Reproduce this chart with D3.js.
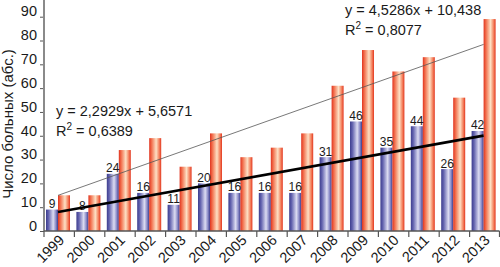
<!DOCTYPE html>
<html>
<head>
<meta charset="utf-8">
<script src="https://cdn.jsdelivr.net/npm/d3@7"></script>
<style>
  html, body { margin: 0; padding: 0; background: #fff; }
  svg { display: block; }
  text { font-family: "Liberation Sans", Arial, sans-serif; fill: #1a1a1a; }
</style>
</head>
<body>
<div id="chart"></div>
<script>
const W = 500, H = 267;
const X0 = 44, X1 = 500, Y0 = 231, Y90 = 16.7;

const years = ["1999", "2000", "2001", "2002", "2003", "2004", "2005", "2006", "2007", "2008", "2009", "2010", "2011", "2012", "2013"];
const blueCases = [9, 8, 24, 16, 11, 20, 16, 16, 16, 31, 46, 35, 44, 26, 42];
const redCases = [15, 15, 34, 39, 27, 41, 31, 35, 41, 61, 76, 67, 73, 56, 89];
const yTicks = [0, 10, 20, 30, 40, 50, 60, 70, 80, 90];
// linear trend coefficients, as printed on the chart
const blueTrend = [2.2929, 5.6571];
const redTrend = [4.5286, 10.438];
const blueEq = ["y = 2,2929x + 5,6571", "0,6389"];
const redEq = ["y = 4,5286x + 10,438", "0,8077"];

const svg = d3.select("#chart").append("svg")
  .attr("width", W)
  .attr("height", H);

const defs = svg.append("defs");
function gradient(id, stops) {
  const g = defs.append("linearGradient").attr("id", id)
    .attr("x1", "0%").attr("x2", "100%").attr("y1", "0%").attr("y2", "0%");
  stops.forEach(([o, c]) => g.append("stop").attr("offset", o).attr("stop-color", c));
}
gradient("gBlue", [[0, "#3d3d8e"], [0.2, "#6262ae"], [0.6, "#dcdcf2"], [0.82, "#8c8cc8"], [1, "#3b3b8c"]]);
gradient("gRed", [[0, "#e0341f"], [0.2, "#f2704e"], [0.58, "#fde0c4"], [0.85, "#f37a57"], [1, "#e2361f"]]);

const x = d3.scaleBand().domain(years).range([X0, X1]);
const y = d3.scaleLinear().domain([0, 90]).range([Y0, Y90]);
const bw = x.bandwidth();
const barW = 12, barOff = 2;

// bars
const bars = svg.append("g");
bars.selectAll(".blue").data(years).join("rect")
  .attr("x", d => x(d) + barOff)
  .attr("y", (d, i) => y(blueCases[i]))
  .attr("width", barW)
  .attr("height", (d, i) => Y0 - y(blueCases[i]))
  .attr("fill", "url(#gBlue)");
bars.selectAll(".red").data(years).join("rect")
  .attr("x", d => x(d) + barOff + barW)
  .attr("y", (d, i) => y(redCases[i]))
  .attr("width", barW)
  .attr("height", (d, i) => Y0 - y(redCases[i]))
  .attr("fill", "url(#gRed)");

// value labels over blue bars
svg.append("g").selectAll("text").data(years).join("text")
  .attr("x", d => x(d) + barOff + barW / 2)
  .attr("y", (d, i) => y(blueCases[i]) - 1.5)
  .attr("text-anchor", "middle")
  .attr("font-size", "12px")
  .text((d, i) => blueCases[i]);

// trend lines (x = 1..15 at the centre of each category)
const cx = i => x(years[i]) + barOff + barW;
function trendLine(coef, width, color) {
  const n = years.length;
  svg.append("line")
    .attr("x1", cx(0)).attr("y1", y(coef[0] * 1 + coef[1]))
    .attr("x2", cx(n - 1)).attr("y2", y(coef[0] * n + coef[1]))
    .attr("stroke", color).attr("stroke-width", width);
}
trendLine(redTrend, 0.8, "#555");
trendLine(blueTrend, 2.6, "#000");

// y axis
const yAxis = svg.append("g").attr("transform", `translate(${X0},0)`)
  .call(d3.axisLeft(y).tickValues(yTicks).tickSize(4).tickPadding(3));
yAxis.select(".domain").remove();
yAxis.selectAll(".tick line").attr("stroke", "#555");
yAxis.selectAll(".tick text").attr("dy", "-0.05em").attr("font-size", "14.5px")
  .attr("font-family", null).attr("fill", "#1a1a1a");
svg.append("line").attr("x1", X0).attr("x2", X0).attr("y1", 0).attr("y2", Y0)
  .attr("stroke", "#8a8a8a").attr("stroke-width", 2);

// x axis
svg.append("line").attr("x1", X0).attr("x2", X1 - 0.5).attr("y1", Y0).attr("y2", Y0)
  .attr("stroke", "#555").attr("stroke-width", 1.5);
const xTicks = years.map(d => x(d)).concat([X1 - 0.5]);
svg.append("g").selectAll("line").data(xTicks).join("line")
  .attr("x1", d => d).attr("x2", d => d).attr("y1", Y0).attr("y2", Y0 + 6)
  .attr("stroke", "#555").attr("stroke-width", 1.2);
svg.append("g").selectAll("text").data(years).join("text")
  .attr("text-anchor", "end")
  .attr("font-size", "14.5px")
  .attr("transform", d => `translate(${x(d) + bw / 2 + 6},${Y0 + 10}) rotate(-45)`)
  .text(d => d);

// y axis title
svg.append("text")
  .attr("transform", `translate(13,124) rotate(-90)`)
  .attr("text-anchor", "middle")
  .attr("font-size", "15px")
  .text("Число больных (абс.)");

// equations
function equation(lines, px, py) {
  const g = svg.append("g").attr("font-size", "14.5px");
  g.append("text").attr("x", px).attr("y", py).text(lines[0]);
  const t = g.append("text").attr("x", px).attr("y", py + 20);
  t.append("tspan").text("R");
  t.append("tspan").attr("dy", -6).attr("font-size", "10px").text("2");
  t.append("tspan").attr("dy", 6).text(" = " + lines[1]);
}
equation(blueEq, 56, 116);
equation(redEq, 345, 15);
</script>
</body>
</html>
